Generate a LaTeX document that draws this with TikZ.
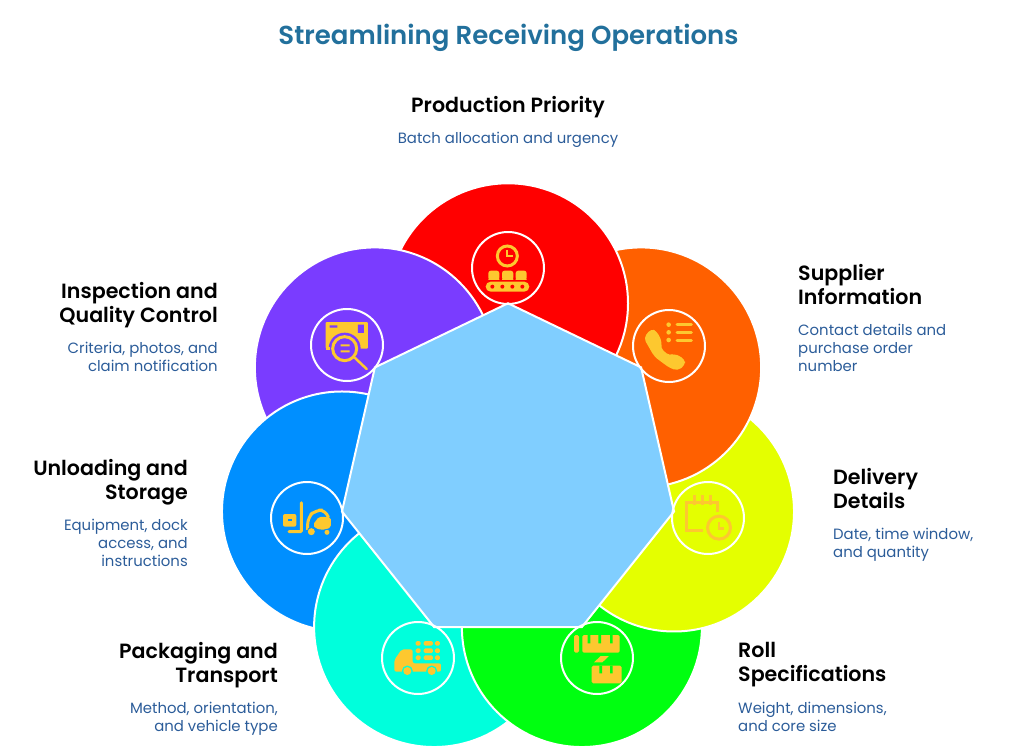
\documentclass[tikz,border=0pt]{standalone}
\usepackage{fontspec}
\setmainfont{Poppins}[BoldFont={Poppins SemiBold}]
\usetikzlibrary{shapes.geometric}

\definecolor{titleblue}{HTML}{22709C}
\definecolor{detailblue}{HTML}{2B5C99}
\definecolor{icongold}{HTML}{FDC82F}
\definecolor{hubblue}{HTML}{80CEFF}
\definecolor{petalred}{HTML}{FF0000}
\definecolor{petalorange}{HTML}{FF6000}
\definecolor{petalyellow}{HTML}{E4FF00}
\definecolor{petalgreen}{HTML}{00FF10}
\definecolor{petalcyan}{HTML}{00FFDC}
\definecolor{petalblue}{HTML}{008FFF}
\definecolor{petalpurple}{HTML}{7A3CFF}

\tikzset{
    hub/.style={
           regular polygon,
           regular polygon sides=7,
           minimum size=340.6pt,
           inner sep=0pt,
           outer sep=0pt,
           },
    petal/.style={
           circle,
           draw=white, line width=2pt,
           minimum size=240pt,
           inner sep=0pt,
           },
    ring/.style={
           circle,
           draw=white, line width=2pt,
           minimum size=72pt,
           inner sep=0pt,
           },
    heading/.style={
           inner sep=0pt,
           font=\fontsize{20.6}{24}\selectfont\bfseries,
           execute at begin node=\strut,
           },
    detail/.style={
           inner sep=0pt,
           text=detailblue,
           font=\fontsize{14.9}{18}\selectfont,
           execute at begin node=\strut,
           },
    iconfill/.style={fill=icongold, draw=none},
    iconline/.style={draw=icongold, line width=3pt},
}

\begin{document}
\begin{tikzpicture}[x=1pt,y=-1pt]
       \useasboundingbox (0,0) rectangle (1015,752);

       \node[inner sep=0pt, text=titleblue, font=\fontsize{26}{30}\selectfont\bfseries] (TITLE) at (508.5,38) {Streamlining Receiving Operations};

       \node[hub] (HUBBASE) at (508,473.6) {};

       \node[petal, fill=petalred] (PRODUCTION) at (HUBBASE.corner 1) {};
       \node[petal, fill=petalpurple] (INSPECTION) at (HUBBASE.corner 2) {};
       \node[petal, fill=petalblue] (UNLOADING) at (HUBBASE.corner 3) {};
       \node[petal, fill=petalcyan] (PACKAGING) at (HUBBASE.corner 4) {};
       \node[petal, fill=petalgreen] (ROLL) at (HUBBASE.corner 5) {};
       \node[petal, fill=petalyellow] (DELIVERY) at (HUBBASE.corner 6) {};
       \node[petal, fill=petalorange] (SUPPLIER) at (HUBBASE.corner 7) {};

       % red comes back over orange
       \begin{scope}
              \clip (508,150) rectangle (800,450);
              \node[petal, fill=petalred] (PRODUCTIONTOP) at (HUBBASE.corner 1) {};
       \end{scope}

       \node[hub, draw=white, line width=2pt, fill=hubblue] (HUB) at (HUBBASE) {};

       \node[ring] (RINGPRODUCTION) at (508,268) {};
       \node[ring] (RINGSUPPLIER) at (669,346) {};
       \node[ring] (RINGDELIVERY) at (708,518) {};
       \node[ring] (RINGROLL) at (597,658) {};
       \node[ring] (RINGPACKAGING) at (418,658) {};
       \node[ring] (RINGUNLOADING) at (307,518) {};
       \node[ring] (RINGINSPECTION) at (347,345) {};

       % icons, in units of a third of a pixel
       \begin{scope}[shift={(470,230)},x=0.3333pt,y=-0.3333pt]
              \draw[iconline] (112,78) circle (10pt);
              \draw[draw=icongold, line width=2pt] (112,60) -- (112,77) -- (128,77);
              \fill[iconfill, rounded corners=2.5pt] (55,150) -- (55,122) -- (88,122) -- (88,150) -- cycle;
              \fill[iconfill, rounded corners=2.5pt] (96,150) -- (96,122) -- (130,122) -- (130,150) -- cycle;
              \fill[iconfill, rounded corners=2.5pt] (137,150) -- (137,122) -- (170,122) -- (170,150) -- cycle;
              \fill[iconfill] (55,146) rectangle (88,150) (96,146) rectangle (130,150) (137,146) rectangle (170,150);
              \fill[iconfill, rounded corners=5pt] (47,155) rectangle (178,185);
              \fill[petalred] (67,170) circle (2pt) (97,170) circle (2pt) (127,170) circle (2pt) (157,170) circle (2pt);
       \end{scope}

       \begin{scope}[shift={(631,308)},x=0.3333pt,y=-0.3333pt]
              \fill[iconfill] (113,50) circle (2.3pt) (113,73) circle (2.3pt) (113,96) circle (2.3pt);
              \draw[iconline, line cap=round] (138,49) -- (181,49) (138,73) -- (181,73) (138,97) -- (181,97);
              \fill[iconfill, rounded corners=4pt] (38,90) -- (60,62) -- (78,70) -- (94,104) -- (88,120) -- (116,144) -- (130,136) -- (162,154) -- (162,172) -- (140,188) -- (116,180) -- (70,146) -- cycle;
       \end{scope}

       \begin{scope}[shift={(670,480)},x=0.3333pt,y=-0.3333pt]
              \draw[iconline] (142,97) -- (142,66) -- (48,66) -- (48,153) -- (100,153);
              \draw[iconline] (72,46) -- (72,76) (96,46) -- (96,76) (120,46) -- (120,76);
              \draw[iconline] (147,143) circle (11.5pt);
              \draw[draw=icongold, line width=2.5pt] (147,126) -- (147,146) -- (162,146);
       \end{scope}

       \begin{scope}[shift={(559,620)},x=0.3333pt,y=-0.3333pt]
              \fill[iconfill, rounded corners=1.5pt] (45,45) rectangle (60,98);
              \fill[iconfill, rounded corners=1.5pt] (70,45) rectangle (182,98);
              \fill[petalgreen] (86,45) rectangle (94,70) (118,45) rectangle (126,70) (153,45) rectangle (161,70);
              \fill[iconfill] (125,108) -- (150,108) -- (130,127) -- (105,127) -- cycle;
              \fill[iconfill, rounded corners=1.5pt] (98,137) rectangle (188,190);
              \fill[petalgreen] (121,137) rectangle (129,160) (153,137) rectangle (161,160);
       \end{scope}

       \begin{scope}[shift={(380,620)},x=0.3333pt,y=-0.3333pt]
              \fill[iconfill, rounded corners=1.5pt] (107,63) rectangle (122,77) (131,63) rectangle (159,77) (165,63) rectangle (180,77);
              \fill[iconfill, rounded corners=1.5pt] (107,85) rectangle (122,99) (131,85) rectangle (159,99) (165,85) rectangle (180,99);
              \fill[iconfill, rounded corners=1.5pt] (107,106) rectangle (122,120) (131,106) rectangle (159,120) (165,106) rectangle (180,120);
              \fill[iconfill, rounded corners=2pt] (43,155) -- (43,120) -- (65,88) -- (98,88) -- (98,130) -- (183,130) -- (183,155) -- cycle;
              \fill[petalcyan] (82,153) circle (5.5pt) (155,153) circle (5.5pt);
              \fill[iconfill] (82,153) circle (4pt) (155,153) circle (4pt);
       \end{scope}

       \begin{scope}[shift={(269,480)},x=0.3333pt,y=-0.3333pt]
              \fill[iconfill, rounded corners=2pt] (42,102) rectangle (82,140);
              \fill[petalblue] (57,118) rectangle (70,124);
              \draw[iconline, line cap=round, rounded corners=1pt] (97,68) -- (97,155) -- (60,155);
              \draw[iconline, rounded corners=7pt] (116,150) -- (116,112) -- (140,90) -- (170,90) -- (178,112);
              \fill[iconfill, rounded corners=2pt] (132,134) -- (150,110) -- (186,112) -- (186,142) -- (166,150) -- (140,146) -- cycle;
              \fill[petalblue] (127,155) circle (4.5pt) (174,157) circle (3.5pt);
              \fill[iconfill] (127,155) circle (3.5pt) (174,157) circle (2.5pt);
       \end{scope}

       \begin{scope}[shift={(309,307)},x=0.3333pt,y=-0.3333pt]
              \fill[iconfill, rounded corners=1pt] (50,45) rectangle (177,125);
              \fill[petalpurple] (62,55) rectangle (85,62) (147,53) rectangle (165,78);
              \fill[petalpurple] (107,125) circle (16pt);
              \fill[iconfill] (50,120) rectangle (62,130);
              \draw[iconline, fill=petalpurple] (107,125) circle (12pt);
              \fill[iconfill] (95,112) rectangle (122,118) (95,130) rectangle (122,136);
              \draw[iconline, line cap=round, line width=2.5pt] (137,152) -- (173,186);
       \end{scope}

       % labels
       \node[heading, anchor=north] (PRODUCTIONHEAD) at (508,95) {Production Priority};
       \node[detail, anchor=north, align=center] (PRODUCTIONTEXT) at (508,131) {Batch allocation and urgency};

       \node[heading, anchor=north west, align=left] (SUPPLIERHEAD) at (798,264) {Supplier\\Information};
       \node[detail, anchor=north west, align=left] (SUPPLIERTEXT) at (798,324) {Contact details and\\purchase order\\number};

       \node[heading, anchor=north west, align=left] (DELIVERYHEAD) at (833,468) {Delivery\\Details};
       \node[detail, anchor=north west, align=left] (DELIVERYTEXT) at (833,528) {Date, time window,\\and quantity};

       \node[heading, anchor=north west, align=left] (ROLLHEAD) at (738,642.5) {Roll\\Specifications};
       \node[detail, anchor=north west, align=left] (ROLLTEXT) at (738,702) {Weight, dimensions,\\and core size};

       \node[heading, anchor=north east, align=right] (PACKAGINGHEAD) at (278,642.5) {Packaging and\\Transport};
       \node[detail, anchor=north east, align=right] (PACKAGINGTEXT) at (278,702) {Method, orientation,\\and vehicle type};

       \node[heading, anchor=north east, align=right] (UNLOADINGHEAD) at (188,459) {Unloading and\\Storage};
       \node[detail, anchor=north east, align=right] (UNLOADINGTEXT) at (188,519) {Equipment, dock\\access, and\\instructions};

       \node[heading, anchor=north east, align=right] (INSPECTIONHEAD) at (218,282) {Inspection and\\Quality Control};
       \node[detail, anchor=north east, align=right] (INSPECTIONTEXT) at (218,342) {Criteria, photos, and\\claim notification};

\end{tikzpicture}
\end{document}
